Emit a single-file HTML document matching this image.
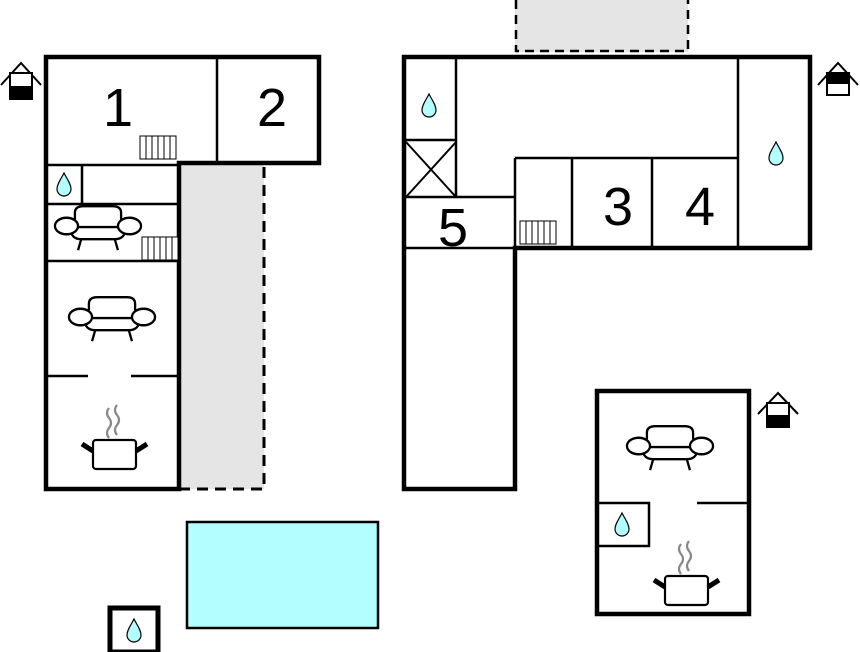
<!DOCTYPE html>
<html><head><style>html,body{margin:0;padding:0;background:#fff}svg{display:block}</style></head>
<body>
<svg width="860" height="652" viewBox="0 0 860 652" xmlns="http://www.w3.org/2000/svg" font-family="Liberation Sans, sans-serif">
<defs>
<g id="drop"><path d="M0,-11 C-3,-5 -7,0 -7,5 A7,7 0 0 0 7,5 C7,0 3,-5 0,-11 Z" fill="#b3ffff" stroke="#000" stroke-width="1.2"/></g>
<g id="sofa0" fill="#fff" stroke="#000" stroke-width="2.2">
<path d="M-22,-6 L-22,-12 Q-22,-18 -14,-18 L14,-18 Q22,-18 22,-12 L22,-6"/>
<path d="M-26,2 Q-26,12 -16,12 L16,12 Q26,12 26,2"/>
<line x1="-22" y1="1" x2="22" y2="1"/>
<ellipse cx="-30" cy="0" rx="11" ry="7.5"/>
<ellipse cx="30" cy="0" rx="11" ry="7.5"/>
<line x1="-16" y1="12" x2="-19" y2="22"/><line x1="16" y1="12" x2="19" y2="22"/>
</g>
<g id="sofa"><use href="#sofa0" transform="scale(1.05,1.1)"/></g>
<g id="pot">
<path d="M-5,-44 q-4,5 0,10 q4,5 0,10 q-4,5 0,10" fill="none" stroke="#888" stroke-width="2.2"/>
<path d="M3,-47 q-4,5 0,10 q4,5 0,10 q-4,5 0,10" fill="none" stroke="#888" stroke-width="2.2"/>
<rect x="-21" y="-12" width="43" height="29" rx="3" fill="#fff" stroke="#000" stroke-width="2.2"/>
<line x1="-21" y1="-1" x2="-32" y2="-8" stroke="#000" stroke-width="5"/>
<line x1="22" y1="-1" x2="33" y2="-8" stroke="#000" stroke-width="5"/>
</g>
<g id="rad" stroke="#000" stroke-width="1" fill="#fff">
<rect x="0" y="0" width="36" height="23"/>
<line x1="6" y1="0" x2="6" y2="23"/><line x1="12" y1="0" x2="12" y2="23"/><line x1="18" y1="0" x2="18" y2="23"/><line x1="24" y1="0" x2="24" y2="23"/><line x1="30" y1="0" x2="30" y2="23"/>
</g>
</defs>

<rect x="181" y="165" width="83" height="324" fill="#e5e5e5"/>
<path d="M264,167 V489 H181" fill="none" stroke="#000" stroke-width="3" stroke-dasharray="11,7"/>
<rect x="515" y="0" width="173" height="52" fill="#e5e5e5"/>
<path d="M516,0 V51 H688 V0" fill="none" stroke="#000" stroke-width="2.5" stroke-dasharray="9,6"/>

<g stroke="#000" fill="none">
<path d="M46,489 V57 H319 V163 H179 V489 Z" stroke-width="4.5"/>
<line x1="217" y1="57" x2="217" y2="163" stroke-width="2.5"/>
<line x1="46" y1="165" x2="179" y2="165" stroke-width="2.5"/>
<line x1="82" y1="165" x2="82" y2="204" stroke-width="2.5"/>
<line x1="46" y1="204" x2="179" y2="204" stroke-width="2.5"/>
<line x1="46" y1="261" x2="179" y2="261" stroke-width="2.5"/>
<line x1="46" y1="376" x2="88" y2="376" stroke-width="2.5"/>
<line x1="131" y1="376" x2="179" y2="376" stroke-width="2.5"/>
</g>
<use href="#rad" x="140" y="136"/>
<use href="#rad" x="142" y="237"/>
<use href="#drop" x="64" y="184"/>
<use href="#sofa" x="98" y="226"/>
<use href="#sofa" x="112" y="317"/>
<use href="#pot" x="114" y="452"/>
<text x="118" y="126" font-size="54" text-anchor="middle">1</text>
<text x="272" y="126" font-size="54" text-anchor="middle">2</text>

<g stroke="#000" fill="none">
<path d="M404,489 V57 H810 V248 H515 V489 Z" stroke-width="4.5"/>
<line x1="456" y1="57" x2="456" y2="197" stroke-width="2.5"/>
<line x1="404" y1="140" x2="456" y2="140" stroke-width="2.5"/>
<line x1="406" y1="142" x2="456" y2="197" stroke-width="2"/>
<line x1="456" y1="142" x2="406" y2="197" stroke-width="2"/>
<line x1="404" y1="197" x2="515" y2="197" stroke-width="2.5"/>
<line x1="515" y1="158" x2="515" y2="248" stroke-width="2.5"/>
<line x1="515" y1="158" x2="738" y2="158" stroke-width="2.5"/>
<line x1="738" y1="57" x2="738" y2="248" stroke-width="2.5"/>
<line x1="572" y1="158" x2="572" y2="248" stroke-width="2.5"/>
<line x1="652" y1="158" x2="652" y2="248" stroke-width="2.5"/>
<line x1="404" y1="248" x2="515" y2="248" stroke-width="2.5"/>
</g>
<use href="#rad" x="520" y="221"/>
<use href="#drop" x="429" y="105"/>
<use href="#drop" x="776" y="153"/>
<text x="618" y="225" font-size="54" text-anchor="middle">3</text>
<text x="700" y="225" font-size="54" text-anchor="middle">4</text>
<text x="453" y="246" font-size="54" text-anchor="middle">5</text>

<g stroke="#000" fill="none">
<rect x="597" y="391" width="152" height="223" stroke-width="4.5"/>
<path d="M597,503 H649 V546 H597" stroke-width="2.5"/>
<line x1="697" y1="503" x2="749" y2="503" stroke-width="2.5"/>
</g>
<use href="#drop" x="622" y="524"/>
<use href="#sofa" x="670" y="446"/>
<use href="#pot" x="686" y="588"/>

<rect x="187" y="522" width="191" height="106" fill="#b3ffff" stroke="#000" stroke-width="2.5"/>
<rect x="110" y="608" width="48" height="44" fill="#fff" stroke="#000" stroke-width="5"/>
<use href="#drop" x="134" y="630"/>

<g stroke="#000" stroke-width="2" fill="none">
<path d="M1,85 L21,63 L41,85"/>
<rect x="10" y="73" width="22" height="26" fill="#fff"/>
<rect x="10" y="87" width="22" height="12" fill="#000"/>
<path d="M818,85 L838,63 L858,85"/>
<rect x="827" y="73" width="22" height="22" fill="#fff"/>
<rect x="827" y="73" width="22" height="10" fill="#000"/>
<path d="M758,414 L778,393 L798,414"/>
<rect x="767" y="403" width="22" height="24" fill="#fff"/>
<rect x="767" y="416" width="22" height="11" fill="#000"/>
</g>
</svg>
</body></html>
